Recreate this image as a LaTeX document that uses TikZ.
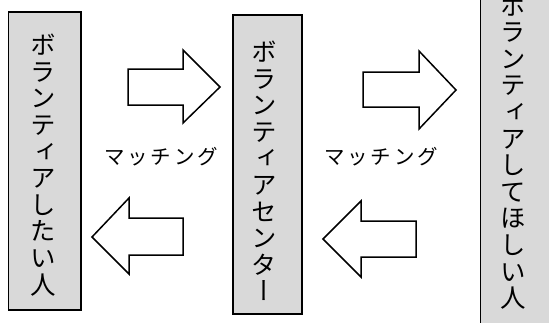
\documentclass[tikz,border=0pt]{standalone}
\usepackage{fontspec}
\newfontfamily\cjk[LetterSpace=14]{Noto Sans CJK JP}
\newfontfamily\cjkv[RawFeature=+vert]{Noto Sans CJK JP}
\definecolor{boxgray}{HTML}{D9D9D9}
\tikzset{
  vbox/.style={draw=black, line width=1.3pt, fill=boxgray},
  vtext/.style={inner sep=0pt, align=center, font=\cjkv\fontsize{25.5}{26.6}\selectfont},
  blockarrow/.style={draw=black, line width=1.5pt, fill=white, line join=miter},
  lbl/.style={inner sep=0pt, font=\cjk\fontsize{20.5}{22}\selectfont}
}
\begin{document}
\begin{tikzpicture}[x=1pt,y=-1pt]
\useasboundingbox (0,0) rectangle (549,322);
% boxes
\path[vbox] (8.5,12) rectangle (81,310);
\path[vbox] (233,15) rectangle (302,314);
\path[vbox] (480.5,-10) rectangle (565,335);
% vertical texts
\node[vtext] (t1) at (43,165) {ボ\\ラ\\ン\\テ\\ィ\\ア\\し\\た\\い\\人};
\node[vtext] (t2) at (264,171) {ボ\\ラ\\ン\\テ\\ィ\\ア\\セ\\ン\\タ\\ー};
\node[vtext] (t3) at (513,152) {ボ\\ラ\\ン\\テ\\ィ\\ア\\し\\て\\ほ\\し\\い\\人};
% arrows
\draw[blockarrow] (128,69) -- (183,69) -- (183,50) -- (220,87) -- (183,123) -- (183,105) -- (128,105) -- cycle;
\draw[blockarrow] (183,218) -- (129,218) -- (129,198) -- (92,237) -- (129,274) -- (129,255) -- (183,255) -- cycle;
\draw[blockarrow] (363,72) -- (419,72) -- (419,51) -- (456,90) -- (419,129) -- (419,107) -- (363,107) -- cycle;
\draw[blockarrow] (416,221) -- (361,221) -- (361,201) -- (323,239) -- (361,277) -- (361,257) -- (416,257) -- cycle;
% labels
\node[lbl] (m1) at (161,157) {マッチング};
\node[lbl] (m2) at (381,157) {マッチング};
\end{tikzpicture}
\end{document}
